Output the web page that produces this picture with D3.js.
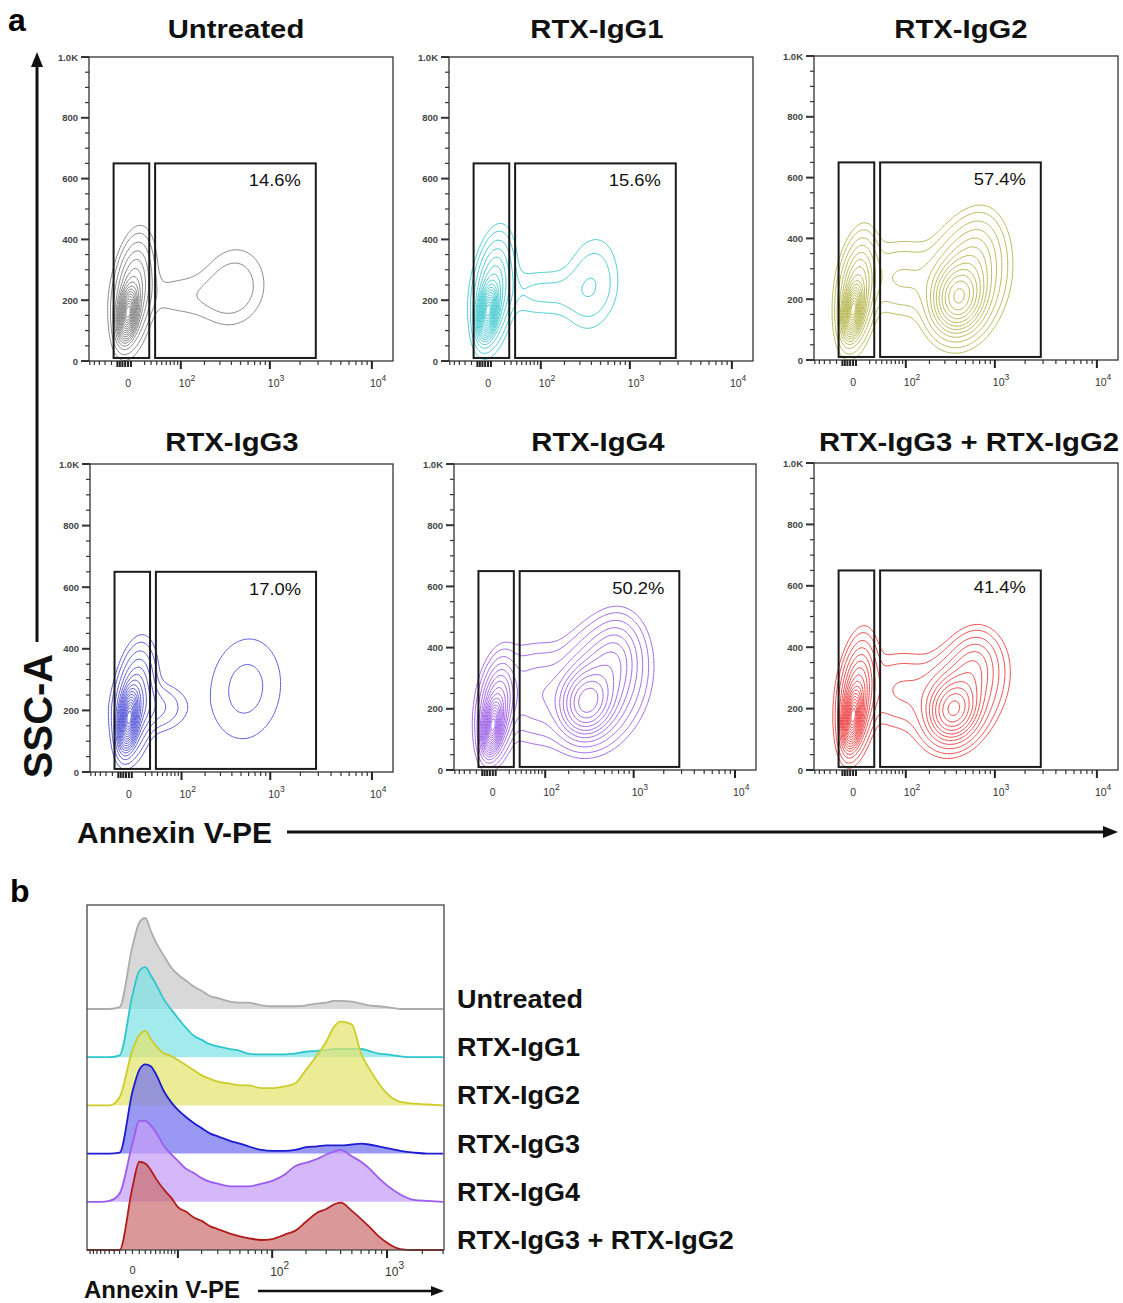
<!DOCTYPE html>
<html><head><meta charset="utf-8">
<script src="https://cdn.jsdelivr.net/npm/d3@7"></script>
<style>body{margin:0;background:#fff}svg{display:block}</style>
</head><body>
<script>
// ---------------- DATA ----------------
const panelTitles = ["Untreated","RTX-IgG1","RTX-IgG2","RTX-IgG3","RTX-IgG4","RTX-IgG3 + RTX-IgG2"];
const gatePercents = ["14.6%","15.6%","57.4%","17.0%","50.2%","41.4%"];
const contourColors = ["#7c7c7c","#3cc8ce","#b4b44a","#4c4cd6","#9a5ae6","#ec3c3c"];
// populations: [Annexin V-PE centre, SSC-A centre, spread (decades), spread (SSC), fraction, correlation]
const popsUntreated = [[0,160,0.045,40,0.50,0.3],[5,225,0.095,88,0.30,0.3],[110,215,0.32,50,0.04,0],[420,245,0.19,80,0.075,0.1]];
const popsIgG1      = [[0,165,0.045,40,0.48,0.3],[5,230,0.095,88,0.30,0.3],[110,225,0.30,50,0.055,0],[406,255,0.15,90,0.074,0.15]];
const popsIgG2      = [[0,165,0.045,40,0.20,0.3],[4,225,0.09,85,0.16,0.3],[90,270,0.25,70,0.05,0],[420,205,0.12,55,0.30,0.1],[500,260,0.18,90,0.25,0.2],[650,360,0.13,70,0.03,0.2]];
const popsIgG3      = [[0,175,0.045,45,0.50,0.3],[6,230,0.095,85,0.28,0.3],[30,210,0.18,45,0.06,0],[560,270,0.25,120,0.107,0.1]];
const popsIgG4      = [[0,145,0.045,40,0.15,0.3],[4,200,0.085,75,0.13,0.3],[80,250,0.25,85,0.07,0],[320,220,0.13,55,0.22,0.1],[450,280,0.20,90,0.25,0.2],[650,380,0.13,65,0.04,0.1]];
const popsCombo     = [[0,175,0.045,45,0.20,0.3],[4,240,0.085,85,0.16,0.3],[90,260,0.25,70,0.045,0],[370,195,0.12,50,0.20,0.1],[450,250,0.19,80,0.18,0.3],[620,350,0.12,55,0.03,0.1]];
const panelPops = [popsUntreated,popsIgG1,popsIgG2,popsIgG3,popsIgG4,popsCombo];
// contour levels as fractions of the peak density
const contourLevels = [0.005,0.01,0.02,0.035,0.055,0.08,0.11,0.15,0.2,0.26,0.33,0.41,0.5,0.6,0.7,0.8,0.9];
const liveGate = [-17, 27], apoptoticGate = [37, 2850], gateSSC = [10, 650];
const sscTicks = [0,200,400,600,800,1000];
const sscTickLabels = ["0","200","400","600","800","1.0K"];
const annexinMajor = [100,1000,10000];
const annexinMajorExp = ["2","3","4"];

// histogram (panel b)
const histNames = ["Untreated","RTX-IgG1","RTX-IgG2","RTX-IgG3","RTX-IgG4","RTX-IgG3 + RTX-IgG2"];
const histFill = ["#c9c9c9","#7fe2e6","#e4e46e","#7272ee","#c49cf6","#cc7070"];
const histLine = ["#acacac","#2cc6cc","#cccc2a","#1c1cd0","#9c5cf0","#b01c1c"];
const histAnnexin = [-10,-6,-4,-2,0,1,2,3,4,6,8,10,13,16,20,25,30,40,50,60,80,100,130,160,200,250,300,350,400,500,600,700,850,1000,1300,1700,2200,3000];
const histUntreated = [0,0,0,2,69,95,100,86,74,58,45,38,31,25,20,14,12,8,7,7,4,3,3,3,4,6,7,9,9,8,6,4,3,2,0,0,0,0];
const histIgG1      = [0,0,0,2,68,95,99,90,81,63,52,43,32,24,19,14,12,9,7,4,3,3,3,4,6,7,8,9,9,9,9,7,4,3,1,0,0,0];
const histIgG2      = [0,0,0,9,61,77,82,73,66,57,54,50,44,39,33,29,26,24,22,22,19,19,21,24,39,55,70,86,92,89,57,41,24,13,4,2,1,0];
const histIgG3      = [0,0,0,1,68,92,98,96,88,68,56,48,40,34,28,22,19,14,11,8,4,3,3,4,7,8,9,9,9,10,11,10,8,6,3,1,0,0];
const histIgG4      = [0,0,1,9,64,89,89,84,77,61,52,45,36,32,26,22,20,17,17,17,20,23,30,39,43,47,52,55,57,50,44,37,26,18,8,2,1,0];
const histCombo     = [0,0,0,0,69,97,95,88,79,66,57,47,42,36,32,26,23,18,15,13,11,12,17,21,31,41,45,50,52,43,34,26,15,8,1,0,0,0];
const histSeries = [histUntreated,histIgG1,histIgG2,histIgG3,histIgG4,histCombo];

// ---------------- LAYOUT ----------------
const W = 1123, H = 1303;
const FONT = "'Liberation Sans', Arial, Helvetica, sans-serif";
const svg = d3.select("body").append("svg").attr("width", W).attr("height", H)
  .style("font-family", FONT);
const frames = [
  {x:89, y:57, w:304, h:304, tx:236, ty:38},
  {x:449,y:57, w:304, h:304, tx:597, ty:38},
  {x:814,y:56, w:304, h:304, tx:961, ty:38},
  {x:90, y:464,w:303, h:308, tx:232, ty:451},
  {x:454,y:464,w:302, h:306, tx:598, ty:451},
  {x:814,y:463,w:304, h:307, tx:969, ty:451}
];
const SYM = 45;

function stretch(sel, f){
  sel.each(function(){
    const L = this.getComputedTextLength();
    d3.select(this).attr("textLength", L*f).attr("lengthAdjust","spacingAndGlyphs");
  });
}

svg.append("text").attr("x",8).attr("y",31).attr("font-size",32).attr("font-weight","bold").text("a");
svg.append("text").attr("x",10).attr("y",902).attr("font-size",32).attr("font-weight","bold").text("b");

const defs = svg.append("defs");

frames.forEach((f, k) => {
  const xS = d3.scaleSymlog().constant(SYM).domain([-62, 16000]).range([f.x, f.x + f.w]);
  const yS = d3.scaleLinear().domain([0, 1000]).range([f.y + f.h, f.y]);
  const g = svg.append("g");

  g.append("text").attr("x", f.tx).attr("y", f.ty).attr("text-anchor","middle")
    .attr("font-size", 25).attr("font-weight","bold").attr("fill","#111")
    .text(panelTitles[k]).call(stretch, 1.17);

  defs.append("clipPath").attr("id","clip"+k).append("rect")
    .attr("x", f.x).attr("y", f.y).attr("width", f.w).attr("height", f.h);
  const step = 1.5;
  const nx = Math.ceil(f.w/step)+1, ny = Math.ceil(f.h/step)+1;
  const pxPerDec = xS(9*SYM) - xS(0);
  const pxPerSSC = yS(0) - yS(1);
  const comps = panelPops[k].map(([ax, ss, sxd, sys, w, rho]) => {
    const sx = sxd*pxPerDec, sy = sys*pxPerSSC;
    return {cx:xS(ax), cy:yS(ss), sx, sy, w, rho, norm: w/(2*Math.PI*sx*sy*Math.sqrt(1-rho*rho))};
  });
  const vals = new Float64Array(nx*ny);
  let vmax = 0;
  for (let j=0;j<ny;j++){
    const py = f.y + j*step;
    for (let i=0;i<nx;i++){
      const px = f.x + i*step;
      let s = 0;
      for (const c of comps){
        const dx = (px - c.cx)/c.sx, dy = (c.cy - py)/c.sy;
        const q = (dx*dx - 2*c.rho*dx*dy + dy*dy)/(2*(1-c.rho*c.rho));
        if (q < 30) s += c.norm*Math.exp(-q);
      }
      vals[j*nx+i] = s; if (s > vmax) vmax = s;
    }
  }
  const thresholds = contourLevels.map(l => l*vmax);
  const contours = d3.contours().size([nx, ny]).thresholds(thresholds)(vals);
  const path = d3.geoPath(d3.geoIdentity().scale(step).translate([f.x - step/2, f.y - step/2]));
  g.append("g").attr("clip-path","url(#clip"+k+")")
    .selectAll("path").data(contours).join("path")
    .attr("d", path).attr("fill","none")
    .attr("stroke", contourColors[k]).attr("stroke-width", 1).attr("stroke-opacity", 0.9)
    .attr("stroke-linejoin","round");

  g.append("rect").attr("x", f.x).attr("y", f.y).attr("width", f.w).attr("height", f.h)
    .attr("fill","none").attr("stroke","#333").attr("stroke-width",1.3);

  [liveGate, apoptoticGate].forEach(gt => {
    g.append("rect").attr("x", xS(gt[0])).attr("y", yS(gateSSC[1]))
      .attr("width", xS(gt[1]) - xS(gt[0])).attr("height", yS(gateSSC[0]) - yS(gateSSC[1]))
      .attr("fill","none").attr("stroke","#1a1a1a").attr("stroke-width",2);
  });
  g.append("text").attr("x", xS(apoptoticGate[1]) - 15).attr("y", yS(575))
    .attr("text-anchor","end").attr("font-size",17).attr("fill","#111")
    .text(gatePercents[k]).call(stretch, 1.08);

  const yMinor = d3.range(0, 1001, 50);
  g.selectAll(null).data(yMinor).join("line")
    .attr("x1", f.x).attr("x2", d => f.x - (d % 200 === 0 ? 8 : 4))
    .attr("y1", d => yS(d)).attr("y2", d => yS(d))
    .attr("stroke","#333").attr("stroke-width", d => d % 200 === 0 ? 2 : 1.2);
  g.selectAll(null).data(sscTicks).join("text")
    .attr("x", f.x - 11).attr("y", d => yS(d) + 3.5)
    .attr("text-anchor","end").attr("font-size",9.5).attr("font-weight","bold").attr("fill","#444")
    .text((d,i) => sscTickLabels[i]);

  const xMinor = [-60,-50,-40,-30,-20,20,30,40,50,60,70,80,90,
    200,300,400,500,600,700,800,900,2000,3000,4000,5000,6000,7000,8000,9000];
  const xCluster = [-12,-9,-6,-3,0,3];
  const y0 = f.y + f.h;
  g.selectAll(null).data(xMinor).join("line")
    .attr("x1", d => xS(d)).attr("x2", d => xS(d)).attr("y1", y0).attr("y2", y0 + 4)
    .attr("stroke","#333").attr("stroke-width",1.2);
  g.selectAll(null).data(xCluster).join("line")
    .attr("x1", d => xS(d)).attr("x2", d => xS(d)).attr("y1", y0).attr("y2", y0 + 6)
    .attr("stroke","#222").attr("stroke-width",2);
  g.selectAll(null).data(annexinMajor).join("line")
    .attr("x1", d => xS(d)).attr("x2", d => xS(d)).attr("y1", y0).attr("y2", y0 + 8)
    .attr("stroke","#222").attr("stroke-width",2);
  g.append("text").attr("x", xS(0)).attr("y", y0 + 26).attr("text-anchor","middle")
    .attr("font-size",10.5).attr("fill","#333").text("0");
  annexinMajor.forEach((v,i) => {
    const t = g.append("text").attr("x", xS(v) - 2).attr("y", y0 + 26)
      .attr("font-size",10.5).attr("fill","#333");
    t.append("tspan").text("10");
    t.append("tspan").attr("dy",-6).attr("font-size",8.5).text(annexinMajorExp[i]);
  });
});

svg.append("text").attr("transform","translate(52,716) rotate(-90)").attr("text-anchor","middle")
  .attr("font-size",40).attr("font-weight","bold").attr("fill","#111").text("SSC-A");
svg.append("line").attr("x1",37).attr("x2",37).attr("y1",642).attr("y2",64)
  .attr("stroke","#111").attr("stroke-width",3);
svg.append("path").attr("d","M37,52 L31,67 L43,67 Z").attr("fill","#111");
svg.append("text").attr("x",77).attr("y",843).attr("font-size",30).attr("font-weight","bold")
  .attr("fill","#111").text("Annexin V-PE");
svg.append("line").attr("x1",287).attr("x2",1106).attr("y1",832).attr("y2",832)
  .attr("stroke","#111").attr("stroke-width",3);
svg.append("path").attr("d","M1118,832 L1103,826 L1103,838 Z").attr("fill","#111");

// ---------------- PANEL b ----------------
const hf = {x:87, y:905, w:357, h:345};
const hX = d3.scaleSymlog().constant(7).domain([-10, 3055]).range([hf.x, hf.x + hf.w]);
const hY = d3.scaleLinear().domain([0, 100]).range([0, 91]);
const rowGap = 48.2;
const hb = svg.append("g");
histSeries.forEach((ser, i) => {
  const base = hf.y + hf.h - (histSeries.length - 1 - i)*rowGap;
  const pts = histAnnexin.map((a, j) => [a, ser[j]]);
  const area = d3.area().x(d => hX(d[0])).y0(base).y1(d => base - hY(d[1])).curve(d3.curveMonotoneX);
  const line = d3.line().x(d => hX(d[0])).y(d => base - hY(d[1])).curve(d3.curveMonotoneX);
  hb.append("path").attr("d", area(pts)).attr("fill", histFill[i]).attr("fill-opacity", 0.72);
  hb.append("path").attr("d", line(pts)).attr("fill","none").attr("stroke", histLine[i]).attr("stroke-width", 1.8);
  hb.append("text").attr("x", 457).attr("y", base - 1).attr("font-size", 25).attr("font-weight","bold")
    .attr("fill","#111").text(histNames[i]).call(stretch, 1.08);
});
hb.append("rect").attr("x", hf.x).attr("y", hf.y).attr("width", hf.w).attr("height", hf.h)
  .attr("fill","none").attr("stroke","#444").attr("stroke-width",1.3);
const hy0 = hf.y + hf.h;
const hMinor = [-9,-8,-7,-6,-5,-4,-3,-2,-1,0,1,2,3,4,5,6,7,8,9,20,30,40,50,60,70,80,90,200,300,400,500,600,700,800,900,2000,3000];
hb.selectAll(null).data(hMinor).join("line")
  .attr("x1", d => hX(d)).attr("x2", d => hX(d)).attr("y1", hy0).attr("y2", hy0 + 4)
  .attr("stroke","#333").attr("stroke-width",1.2);
hb.selectAll(null).data([10,100,1000]).join("line")
  .attr("x1", d => hX(d)).attr("x2", d => hX(d)).attr("y1", hy0).attr("y2", hy0 + 8)
  .attr("stroke","#222").attr("stroke-width",2);
hb.append("text").attr("x", hX(0)).attr("y", hy0 + 24).attr("text-anchor","middle")
  .attr("font-size",11).attr("fill","#333").text("0");
[[100,"2"],[1000,"3"]].forEach(([v,e]) => {
  const t = hb.append("text").attr("x", hX(v) - 2).attr("y", hy0 + 26).attr("font-size",12).attr("fill","#333");
  t.append("tspan").text("10");
  t.append("tspan").attr("dy",-7).attr("font-size",10).text(e);
});
hb.append("text").attr("x",84).attr("y",1298).attr("font-size",24).attr("font-weight","bold")
  .attr("fill","#111").text("Annexin V-PE");
hb.append("line").attr("x1",258).attr("x2",432).attr("y1",1291).attr("y2",1291)
  .attr("stroke","#111").attr("stroke-width",2.5);
hb.append("path").attr("d","M444,1291 L431,1286 L431,1296 Z").attr("fill","#111");
</script>
</body></html>
